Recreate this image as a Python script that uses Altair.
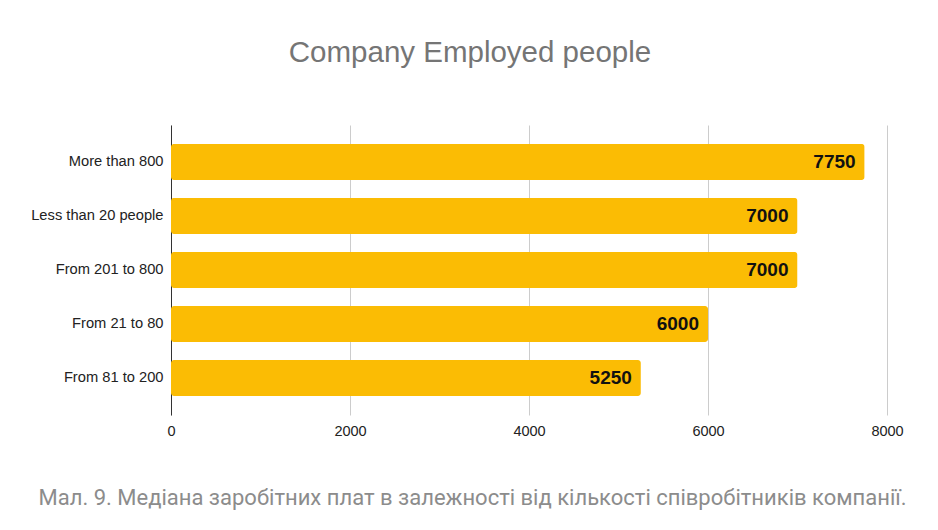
import altair as alt
import pandas as pd

categories = ["More than 800", "Less than 20 people", "From 201 to 800", "From 21 to 80", "From 81 to 200"]
values = [7750, 7000, 7000, 6000, 5250]
x_ticks = [0, 2000, 4000, 6000, 8000]

df = pd.DataFrame({"category": categories, "value": values})

W, H = 716, 290

base = alt.Chart(df).encode(
    y=alt.Y(
        "category:N",
        sort=categories,
        scale=alt.Scale(paddingInner=0.333, paddingOuter=0.35),
        axis=alt.Axis(
            title=None,
            labelFont="Liberation Sans",
            labelFontSize=14.7,
            labelColor="#222222",
            labelPadding=8,
            ticks=False,
            domainColor="#333333",
            domainWidth=1,
            grid=False,
        ),
    ),
    x=alt.X(
        "value:Q",
        scale=alt.Scale(domain=[0, 8000], nice=False),
        axis=alt.Axis(
            values=x_ticks,
            format="d",
            labelFont="Liberation Sans",
            labelFontSize=14.5,
            labelColor="#222222",
            labelPadding=9,
            labelFlush=False,
            ticks=False,
            domain=False,
            grid=True,
            gridColor="#cccccc",
            gridWidth=1,
            title="Мал. 9. Медіана заробітних плат в залежності від кількості співробітників компанії.",
            titleFont="Roboto",
            titleFontWeight="normal",
            titleFontSize=22,
            titleColor="#8c8c8c",
            titleX=301,
            titleY=82,
            titleAlign="center",
            titleBaseline="middle",
        ),
    ),
)

bars = base.mark_bar(color="#FBBC04", cornerRadius=3)
labels = base.mark_text(
    align="right", baseline="middle", dx=-9, font="Liberation Sans",
    fontSize=19, fontWeight="bold", color="#111111"
).encode(text=alt.Text("value:Q", format="d"))

chart = (
    alt.layer(bars, labels)
    .properties(
        width=W,
        height=H,
        title=alt.TitleParams(
            "Company Employed people",
            font="Liberation Sans",
            fontSize=29.5,
            fontWeight="normal",
            color="#757575",
            anchor="middle",
            dx=-59,
            offset=57,
        ),
        padding={"left": 171, "top": 125, "right": 51, "bottom": 115},
        autosize=alt.AutoSizeParams(type="none"),
    )
    .configure(background="white")
    .configure_view(stroke=None)
)

chart.save("out.html", embed_options={"renderer": "svg", "actions": False})
